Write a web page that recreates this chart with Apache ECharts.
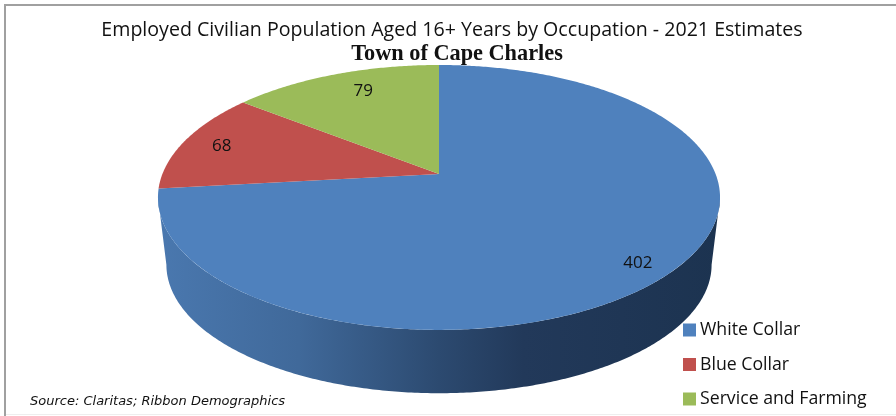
<!DOCTYPE html>
<html><head><meta charset="utf-8">
<style>html,body{margin:0;padding:0;background:#fff}#c{width:896px;height:416px}</style>
<script src="https://cdn.jsdelivr.net/npm/echarts@6/dist/echarts.min.js"></script>
</head><body><div id="c"></div>
<script>
const categories = ['White Collar', 'Blue Collar', 'Service and Farming'];
const values = [402, 68, 79];
const colors = ['#4f81bd', '#c0504d', '#9bbb59'];
const titleText = 'Employed Civilian Population Aged 16+ Years by Occupation - 2021 Estimates';
const subtitleText = 'Town of Cape Charles';
const sourceText = 'Source: Claritas; Ribbon Demographics';

// projection of the tilted disc (perspective, as in the original 3-D pie)
const CX = 439, CY = 174, SX = 276.6, SY = 128.3, K = 0.177;
const BOTTOM_SCALE = 0.97, BOTTOM_CY = 242;
const labelPlace = [[0.87, -1, 6], [0.85, 0, 1], [0.8, 10, -1]];
const total = values.reduce((a, b) => a + b, 0);

function project(theta, r, scale, cy) {
  const u = r * Math.sin(theta), v = -r * Math.cos(theta), w = 1 - K * v;
  return [CX + scale * SX * u / w, cy + scale * SY * v / w];
}
function arc(a0, a1, scale, cy) {
  const pts = [], n = Math.max(2, Math.ceil((a1 - a0) / 0.01));
  for (let i = 0; i <= n; i++) pts.push(project(a0 + (a1 - a0) * i / n, 1, scale, cy));
  return pts;
}
function renderSlice(idx) {
  return function (params, api) {
    const val = api.value(0);
    let before = 0;
    for (let i = 0; i < idx; i++) before += values[i];
    const a0 = before / total * 2 * Math.PI, a1 = (before + val) / total * 2 * Math.PI;
    const children = [];
    // side wall: the front part of the rim only
    const f0 = Math.acos(-K), f1 = 2 * Math.PI - f0;
    const w0 = Math.max(a0, f0), w1 = Math.min(a1, f1);
    if (w1 > w0) {
      const wall = arc(w0, w1, 1, CY).concat(arc(w0, w1, BOTTOM_SCALE, BOTTOM_CY).reverse());
      children.push({
        type: 'polygon', shape: { points: wall },
        style: { fill: new echarts.graphic.LinearGradient(0, 0, 1, 0, [
          { offset: 0, color: '#4a78af' }, { offset: 0.25, color: '#40699a' },
          { offset: 0.5, color: '#2c4a70' }, { offset: 0.65, color: '#22395a' },
          { offset: 1, color: '#1c3350' }]) }
      });
    }
    const top = [[CX, CY]].concat(arc(a0, a1, 1, CY));
    children.push({ type: 'polygon', shape: { points: top }, style: { fill: colors[idx] } });
    const mid = (a0 + a1) / 2, lp = labelPlace[idx], p = project(mid, lp[0], 1, CY);
    children.push({
      type: 'text', x: p[0] + lp[1], y: p[1] + lp[2],
      style: { text: String(val), fill: '#111', font: '17px "Open Sans"', align: 'center', verticalAlign: 'middle' }
    });
    return { type: 'group', children };
  };
}
const chart = echarts.init(document.getElementById('c'), null, { renderer: 'canvas' });
chart.setOption({
  animation: false,
  backgroundColor: '#fff',
  title: [
    { text: titleText, left: 447, top: 15, textAlign: 'center', textStyle: { fontFamily: 'Open Sans', fontSize: 19.6, fontWeight: 'normal', color: '#111' } },
    { text: subtitleText, left: 452, top: 38, textAlign: 'center', textStyle: { fontFamily: 'Liberation Serif', fontSize: 22.3, fontWeight: 'bold', color: '#111' } },
    { text: sourceText, left: 25, top: 390, textStyle: { fontFamily: 'DejaVu Sans', fontSize: 13, fontStyle: 'italic', fontWeight: 'normal', color: '#111' } }
  ],
  legend: {
    orient: 'vertical', left: 678, top: 313, height: 100, padding: 5, icon: 'rect', itemWidth: 13, itemHeight: 13, itemGap: 10.5,
    selectedMode: false, data: categories,
    textStyle: { fontFamily: 'Open Sans', fontSize: 17.7, color: '#111', padding: [0, 0, 0, -1], height: 24, lineHeight: 24 }
  },
  graphic: [
    { type: 'polyline', shape: { points: [[5, 416], [5, 5], [896, 5]] }, style: { fill: null, stroke: '#a0a0a0', lineWidth: 2 }, silent: true },
    { type: 'line', shape: { x1: 6, y1: 414.5, x2: 896, y2: 414.5 }, style: { stroke: '#eeeeee', lineWidth: 1 }, silent: true }
  ],
  series: categories.map((name, i) => ({
    type: 'custom', name, coordinateSystem: 'none',
    itemStyle: { color: colors[i] },
    renderItem: renderSlice(i),
    data: [values[i]],
    encode: { value: 0 }
  }))
});
</script></body></html>
